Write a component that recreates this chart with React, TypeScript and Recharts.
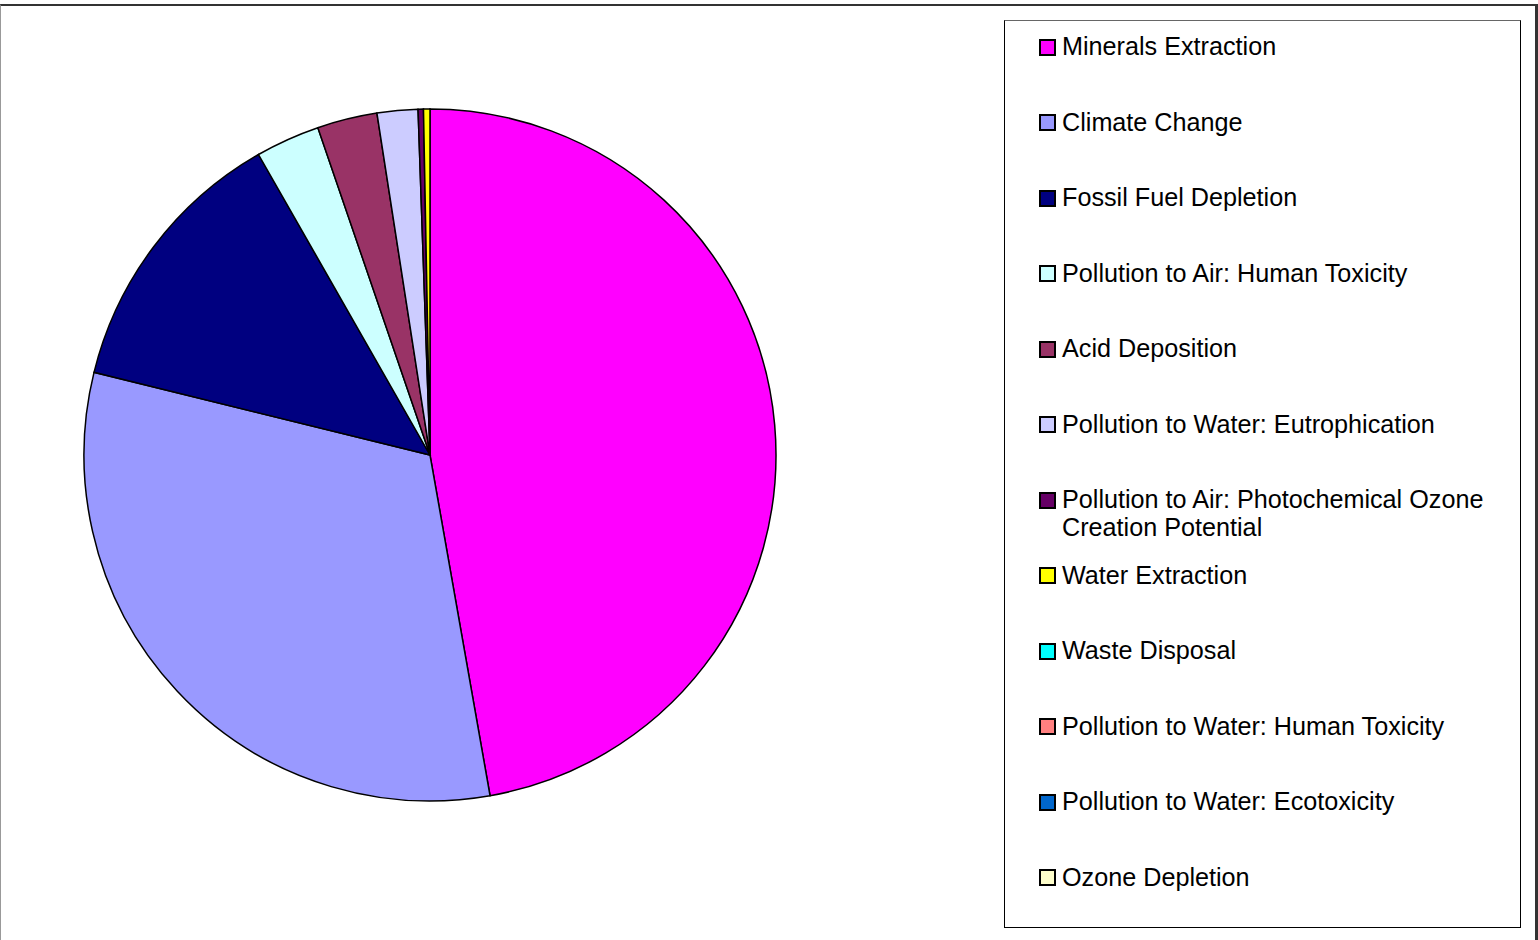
import { PieChart, Pie, Cell, Legend } from "recharts";

const categories = [
  "Minerals Extraction",
  "Climate Change",
  "Fossil Fuel Depletion",
  "Pollution to Air: Human Toxicity",
  "Acid Deposition",
  "Pollution to Water: Eutrophication",
  "Pollution to Air: Photochemical Ozone Creation Potential",
  "Water Extraction",
  "Waste Disposal",
  "Pollution to Water: Human Toxicity",
  "Pollution to Water: Ecotoxicity",
  "Ozone Depletion",
];

const shares = [47.2, 31.6, 12.9, 3.0, 2.8, 1.9, 0.25, 0.3, 0, 0, 0, 0];

const colors = [
  "#FF00FF", "#9999FF", "#000080", "#CCFFFF", "#993366", "#CCCCFF",
  "#660066", "#FFFF00", "#00FFFF", "#FF8080", "#0066CC", "#FFFFCC",
];

const data = categories.map((name, i) => ({ name, value: shares[i] }));

const W = 1538;
const H = 940;
const FONT = "'Liberation Sans', Arial, sans-serif";

function ChartLegend() {
  return (
    <div
      style={{
        position: "relative", width: 517, height: 908, boxSizing: "border-box",
        border: "1px solid #000", borderTopColor: "#666", background: "#fff",
        fontFamily: FONT, fontSize: 25.2, color: "#000",
      }}
    >
      {categories.map((name, i) => (
        <div
          key={name}
          style={{ position: "absolute", left: 34, top: 11 + i * 75.5, width: 480, display: "flex", alignItems: "flex-start" }}
        >
          <span
            style={{
              display: "inline-block", width: 13, height: 13, marginTop: 6.5, marginRight: 6,
              flex: "none", background: colors[i], border: "2px solid #000",
            }}
          />
          <span style={{ lineHeight: "28px" }}>{name}</span>
        </div>
      ))}
    </div>
  );
}

export default function App() {
  return (
    <div style={{ position: "absolute", left: 0, top: 0, width: W, height: H, background: "#fff", overflow: "hidden" }}>
      <div
        style={{
          position: "absolute", left: 0, top: 4, width: W, height: H, boxSizing: "border-box",
          borderTop: "2px solid #333", borderLeft: "1px solid #999", borderRight: "3px solid #333",
        }}
      />
      <PieChart
        width={W}
        height={H}
        margin={{ top: 0, right: 0, bottom: 0, left: 0 }}
        style={{ position: "absolute", left: 0, top: 0 }}
      >
        <Pie
          data={data}
          dataKey="value"
          nameKey="name"
          cx={430}
          cy={455}
          outerRadius={346}
          startAngle={90}
          endAngle={-270}
          stroke="#000"
          strokeWidth={1.5}
          isAnimationActive={false}
        >
          {data.map((d, i) => (
            <Cell key={d.name} fill={colors[i]} />
          ))}
        </Pie>
        <Legend
          content={() => <ChartLegend />}
          wrapperStyle={{ left: 1004, top: 20, width: 517, height: 908, bottom: "auto", right: "auto" }}
        />
      </PieChart>
    </div>
  );
}
